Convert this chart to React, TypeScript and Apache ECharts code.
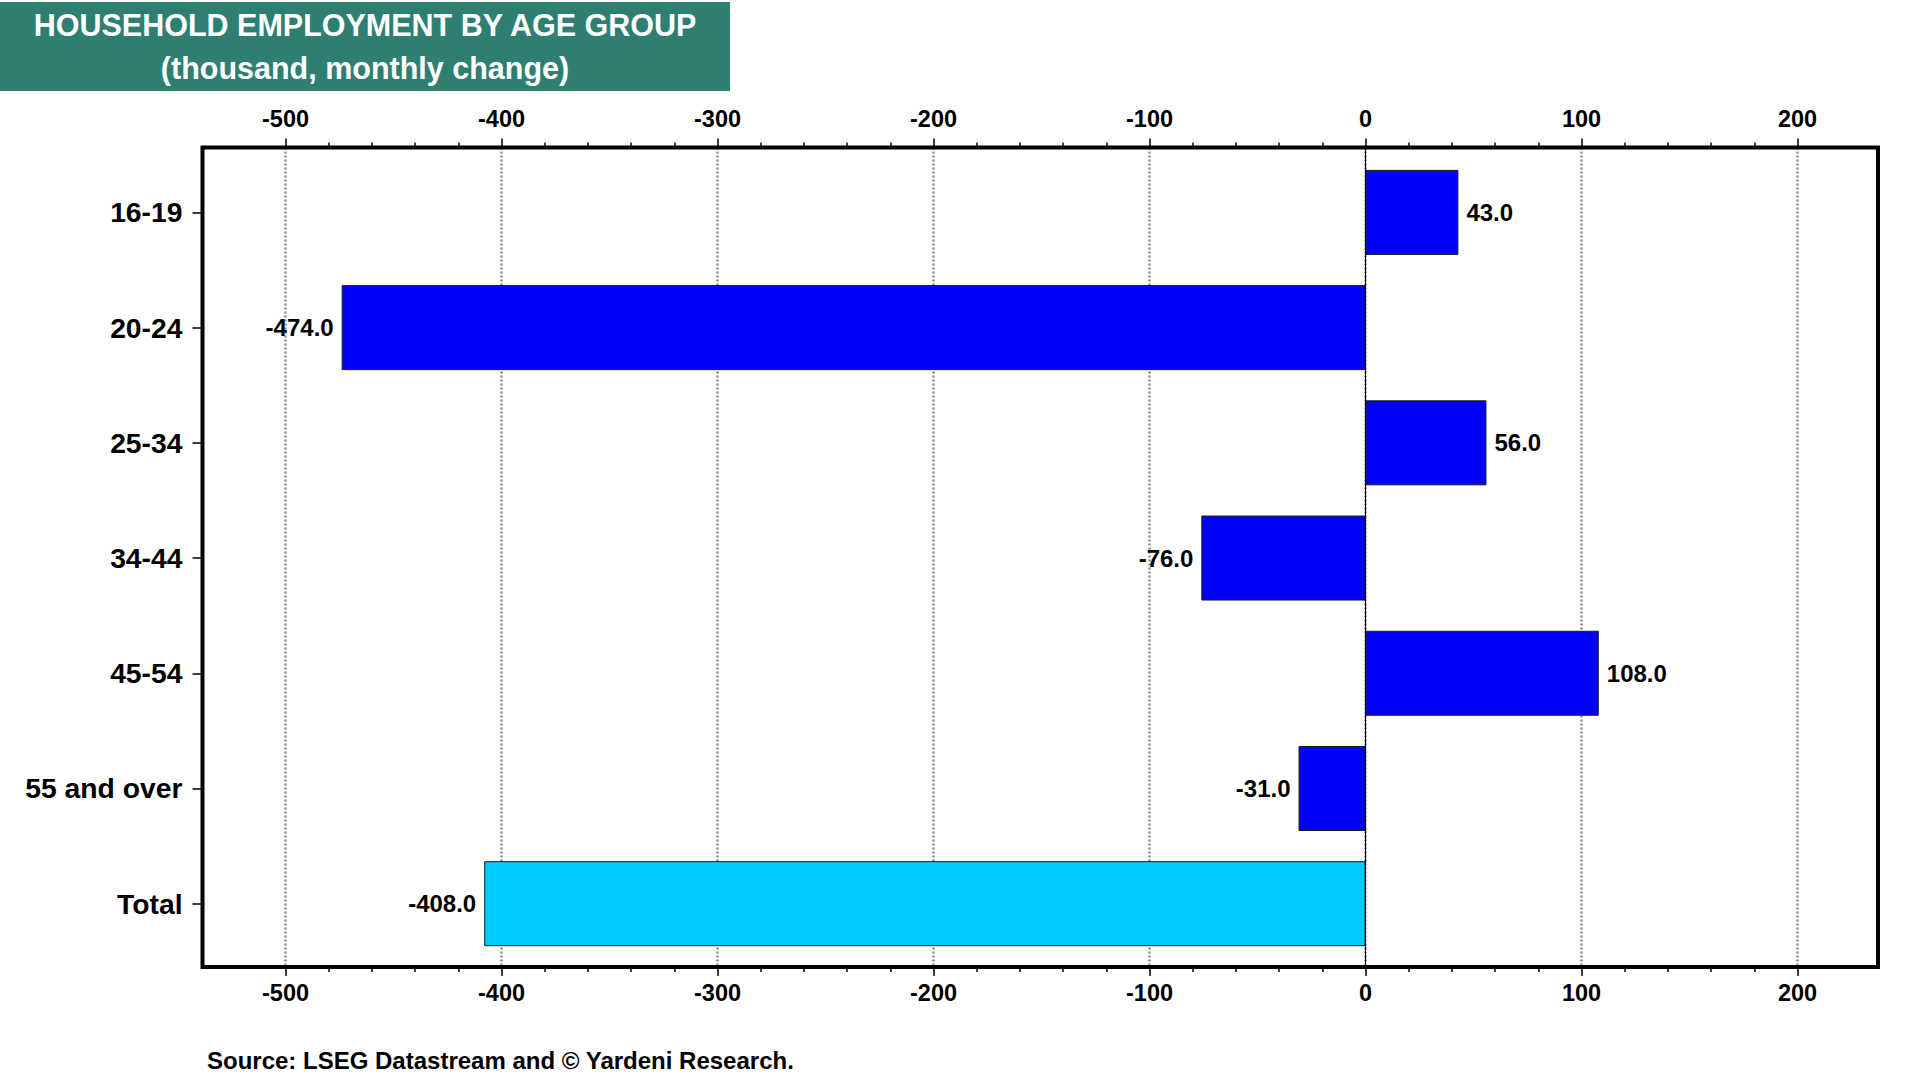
import React, { useEffect, useRef } from "react";
import * as echarts from "echarts";

const categories = ["16-19", "20-24", "25-34", "34-44", "45-54", "55 and over", "Total"];
const values = [43.0, -474.0, 56.0, -76.0, 108.0, -31.0, -408.0];
const xTickValues = [-500, -400, -300, -200, -100, 0, 100, 200];
const titleLines = ["HOUSEHOLD EMPLOYMENT BY AGE GROUP", "(thousand, monthly change)"];
const sourceText = "Source: LSEG Datastream and \u00A9 Yardeni Research.";

const FONT = "'Liberation Sans', Arial, Helvetica, sans-serif";

export default function App() {
  const ref = useRef<HTMLDivElement>(null);
  useEffect(() => {
    document.body.style.margin = "0";
    if (!ref.current) return;
    const chart = echarts.init(ref.current, null, { renderer: "svg" });
    const xMin = xTickValues[0];
    const xMax = xTickValues[xTickValues.length - 1];
    const plotLeft = 285.5;
    const plotRight = 1920 - 1797.5;
    const frame = { x: 202.5, y: 147.5, w: 1878 - 202.5, h: 967 - 147.5 };

    const option: any = {
      animation: false,
      backgroundColor: "#ffffff",
      textStyle: { fontFamily: FONT },
      grid: [
        { left: plotLeft, right: plotRight, top: 154.8, bottom: 1080 - 961.3, containLabel: false },
        { left: plotLeft, right: plotRight, top: frame.y, bottom: 1080 - (frame.y + frame.h), containLabel: false },
      ],
      xAxis: [
        {
          gridIndex: 0,
          type: "value",
          min: xMin,
          max: xMax,
          interval: 100,
          show: false,
        },
        {
          gridIndex: 1,
          type: "value",
          position: "top",
          min: xMin,
          max: xMax,
          interval: 100,
          axisLine: { show: false, onZero: false },
          axisTick: { show: true, length: 9, lineStyle: { color: "#000", width: 1.5 } },
          minorTick: { show: true, splitNumber: 5, length: 5, lineStyle: { color: "#000", width: 1.5 } },
          axisLabel: { color: "#000", fontWeight: "bold", fontSize: 23.5, fontFamily: FONT, margin: 17 },
          splitLine: { show: true, lineStyle: { color: "#8a8a8a", width: 2.5, type: [2, 2] } },
          minorSplitLine: { show: false },
        },
        {
          gridIndex: 1,
          type: "value",
          position: "bottom",
          min: xMin,
          max: xMax,
          interval: 100,
          axisLine: { show: false, onZero: false },
          axisTick: { show: true, length: 9, lineStyle: { color: "#000", width: 1.5 } },
          minorTick: { show: true, splitNumber: 5, length: 5, lineStyle: { color: "#000", width: 1.5 } },
          axisLabel: { color: "#000", fontWeight: "bold", fontSize: 23.5, fontFamily: FONT, margin: 14 },
          splitLine: { show: false },
        },
      ],
      yAxis: [
        {
          gridIndex: 0,
          type: "category",
          data: categories,
          inverse: true,
          offset: plotLeft - frame.x,
          axisLine: { show: false, onZero: false },
          axisTick: { show: true, alignWithLabel: true, length: 10, lineStyle: { color: "#000", width: 1.5 } },
          axisLabel: {
            color: "#000",
            fontWeight: "bold",
            fontSize: 28.3,
            fontFamily: FONT,
            margin: 20,
            padding: [0, 0, 5, 0],
          },
          splitLine: { show: false },
        },
        {
          gridIndex: 1,
          type: "value",
          min: 0,
          max: 1,
          show: false,
        },
      ],
      series: [
        {
          type: "bar",
          xAxisIndex: 0,
          yAxisIndex: 0,
          barWidth: 85,
          data: values.map((v, i) => ({
            value: v,
            itemStyle: {
              color: categories[i] === "Total" ? "#00CCFF" : "#0000FF",
              borderColor: "#1a1a1a",
              borderWidth: 1,
            },
            label: { position: v >= 0 ? "right" : "left" },
          })),
          label: {
            show: true,
            distance: 8,
            color: "#000",
            fontWeight: "bold",
            fontSize: 24,
            fontFamily: FONT,
            padding: [0, 0, 2, 0],
            formatter: (p: any) => Number(p.value).toFixed(1),
          },
          z: 3,
        },
        {
          type: "line",
          xAxisIndex: 1,
          yAxisIndex: 1,
          data: [],
          silent: true,
          markLine: {
            silent: true,
            symbol: "none",
            label: { show: false },
            lineStyle: { color: "#000", width: 1, type: "solid" },
            data: [{ xAxis: 0 }],
          },
          z: 2,
        },
      ],
      graphic: [
        {
          type: "rect",
          shape: { x: frame.x, y: frame.y, width: frame.w, height: frame.h },
          style: { fill: "none", stroke: "#000", lineWidth: 4 },
          z: 10,
          silent: true,
        },
        {
          type: "rect",
          shape: { x: 0, y: 2, width: 730, height: 89 },
          style: { fill: "#2E7F71" },
          z: 10,
          silent: true,
        },
        {
          type: "text",
          x: 365,
          y: 25,
          style: {
            text: titleLines[0],
            fill: "#ffffff",
            font: `bold 30.5px ${FONT}`,
            textAlign: "center",
            textVerticalAlign: "middle",
          },
          z: 11,
        },
        {
          type: "text",
          x: 365,
          y: 67.5,
          style: {
            text: titleLines[1],
            fill: "#ffffff",
            font: `bold 30.5px ${FONT}`,
            textAlign: "center",
            textVerticalAlign: "middle",
          },
          z: 11,
        },
        {
          type: "text",
          x: 207,
          y: 1060,
          style: {
            text: sourceText,
            fill: "#000",
            font: `bold 24px ${FONT}`,
            textAlign: "left",
            textVerticalAlign: "middle",
          },
          z: 11,
        },
      ],
    };
    chart.setOption(option);
    return () => chart.dispose();
  }, []);
  return <div ref={ref} style={{ position: "fixed", left: 0, top: 0, width: 1920, height: 1080 }} />;
}
